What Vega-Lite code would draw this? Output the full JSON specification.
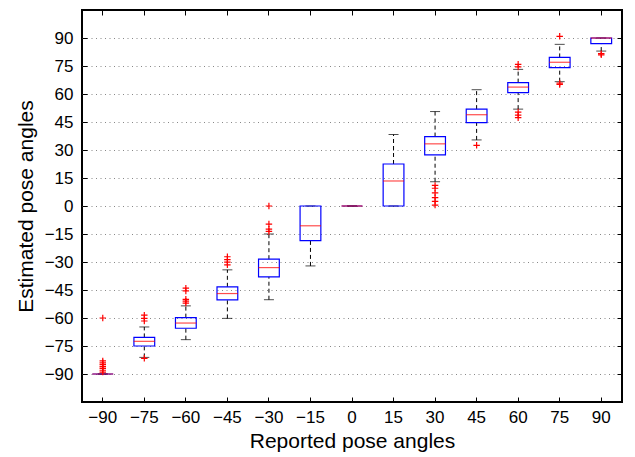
{
  "$schema": "https://vega.github.io/schema/vega-lite/v6.json",
  "width": 540,
  "height": 392,
  "autosize": {"type": "none"},
  "padding": {"left": 82, "top": 10, "right": 13, "bottom": 55},
  "background": "white",
  "datasets": {
    "boxes": [
      {"angle": -90, "lo": -90, "q1": -90, "med": -90, "q3": -90, "hi": -90},
      {"angle": -75, "lo": -81.1, "q1": -75.0, "med": -72.5, "q3": -70.4, "hi": -64.8},
      {"angle": -60, "lo": -71.6, "q1": -65.5, "med": -62.7, "q3": -59.8, "hi": -53.5},
      {"angle": -45, "lo": -60.2, "q1": -50.3, "med": -46.9, "q3": -43.3, "hi": -34.2},
      {"angle": -30, "lo": -50.2, "q1": -38.0, "med": -33.0, "q3": -28.5, "hi": -15.0},
      {"angle": -15, "lo": -32.1, "q1": -18.6, "med": -10.6, "q3": 0, "hi": 0},
      {"angle": 0, "lo": 0, "q1": 0, "med": 0, "q3": 0, "hi": 0},
      {"angle": 15, "lo": 0, "q1": 0, "med": 13.4, "q3": 22.5, "hi": 38.3},
      {"angle": 30, "lo": 13.0, "q1": 27.4, "med": 33.3, "q3": 37.2, "hi": 50.6},
      {"angle": 45, "lo": 35.4, "q1": 44.7, "med": 48.9, "q3": 51.9, "hi": 62.3},
      {"angle": 60, "lo": 51.9, "q1": 60.7, "med": 63.7, "q3": 66.1, "hi": 73.2},
      {"angle": 75, "lo": 66.6, "q1": 74.1, "med": 77.0, "q3": 79.6, "hi": 86.6},
      {"angle": 90, "lo": 83.0, "q1": 87.0, "med": 90, "q3": 90, "hi": 90}
    ],
    "outliers": [
      {"angle": -90, "v": -60}, {"angle": -90, "v": -83}, {"angle": -90, "v": -84}, {"angle": -90, "v": -85},
      {"angle": -90, "v": -86}, {"angle": -90, "v": -87}, {"angle": -90, "v": -88}, {"angle": -90, "v": -89},
      {"angle": -75, "v": -58.5}, {"angle": -75, "v": -60.2}, {"angle": -75, "v": -61.6}, {"angle": -75, "v": -81.6},
      {"angle": -60, "v": -44}, {"angle": -60, "v": -45.5}, {"angle": -60, "v": -50}, {"angle": -60, "v": -51}, {"angle": -60, "v": -52},
      {"angle": -45, "v": -27.2}, {"angle": -45, "v": -28.7}, {"angle": -45, "v": -30.1}, {"angle": -45, "v": -31.5},
      {"angle": -30, "v": 0}, {"angle": -30, "v": -9.7}, {"angle": -30, "v": -12.4}, {"angle": -30, "v": -13.6},
      {"angle": 30, "v": 11}, {"angle": 30, "v": 9.5}, {"angle": 30, "v": 7}, {"angle": 30, "v": 4.5}, {"angle": 30, "v": 2.5}, {"angle": 30, "v": 0.5},
      {"angle": 45, "v": 32.5},
      {"angle": 60, "v": 75.9}, {"angle": 60, "v": 74.5}, {"angle": 60, "v": 50.3}, {"angle": 60, "v": 48.7}, {"angle": 60, "v": 47.3},
      {"angle": 75, "v": 90.9}, {"angle": 75, "v": 65.8}, {"angle": 75, "v": 65.1},
      {"angle": 90, "v": 81.6}, {"angle": 90, "v": 81}
    ]
  },
  "resolve": {"axis": {"x": "independent", "y": "independent"}},
  "layer": [
    {
      "data": {"name": "boxes"},
      "mark": {"type": "rule", "color": "black", "strokeWidth": 1, "strokeDash": [4, 3]},
      "encoding": {
        "x": {"field": "angle", "type": "ordinal",
          "scale": {"type": "band", "domain": [-90, -75, -60, -45, -30, -15, 0, 15, 30, 45, 60, 75, 90], "paddingInner": 0, "paddingOuter": 0},
          "axis": {"orient": "bottom", "title": "Reported pose angles", "labelAngle": 0, "domain": false, "grid": false,
            "tickSize": -5, "labelPadding": 12, "titlePadding": 5,
            "labelExpr": "replace(datum.label, '-', '\u2212')"}},
        "y": {"field": "lo", "type": "quantitative",
          "scale": {"domain": [-105, 105], "nice": false, "zero": false},
          "axis": {"orient": "left", "title": "Estimated pose angles", "values": [-90, -75, -60, -45, -30, -15, 0, 15, 30, 45, 60, 75, 90],
            "domain": false, "grid": true, "gridDash": [1, 3.5], "gridColor": "#888888", "gridWidth": 1,
            "tickSize": -5, "labelPadding": 14, "titlePadding": 8}},
        "y2": {"field": "q1"}
      }
    },
    {
      "data": {"name": "boxes"},
      "mark": {"type": "rule", "color": "black", "strokeWidth": 1, "strokeDash": [4, 3]},
      "encoding": {
        "x": {"field": "angle", "type": "ordinal",
          "axis": {"orient": "top", "labels": false, "title": null, "domain": false, "grid": false, "tickSize": -5}},
        "y": {"field": "q3", "type": "quantitative",
          "axis": {"orient": "right", "labels": false, "title": null, "domain": false, "grid": false, "tickSize": -5,
            "values": [-90, -75, -60, -45, -30, -15, 0, 15, 30, 45, 60, 75, 90]}},
        "y2": {"field": "hi"}
      }
    },
    {
      "data": {"name": "boxes"},
      "mark": {"type": "tick", "color": "black", "size": 10, "thickness": 1},
      "encoding": {
        "x": {"field": "angle", "type": "ordinal", "axis": null},
        "y": {"field": "lo", "type": "quantitative", "axis": null}
      }
    },
    {
      "data": {"name": "boxes"},
      "mark": {"type": "tick", "color": "black", "size": 10, "thickness": 1},
      "encoding": {
        "x": {"field": "angle", "type": "ordinal", "axis": null},
        "y": {"field": "hi", "type": "quantitative", "axis": null}
      }
    },
    {
      "data": {"name": "boxes"},
      "mark": {"type": "bar", "fill": null, "fillOpacity": 0, "stroke": "#0000ff", "strokeWidth": 1.2, "width": {"band": 0.5}},
      "encoding": {
        "x": {"field": "angle", "type": "ordinal", "axis": null},
        "y": {"field": "q1", "type": "quantitative", "axis": null},
        "y2": {"field": "q3"}
      }
    },
    {
      "data": {"name": "boxes"},
      "mark": {"type": "tick", "color": "#ff0000", "size": 21, "thickness": 1.2},
      "encoding": {
        "x": {"field": "angle", "type": "ordinal", "axis": null},
        "y": {"field": "med", "type": "quantitative", "axis": null}
      }
    },
    {
      "data": {"name": "outliers"},
      "mark": {"type": "point", "shape": "M-1,0L1,0M0,-1L0,1", "filled": false, "stroke": "#ff0000", "strokeWidth": 1.2, "size": 42, "opacity": 1},
      "encoding": {
        "x": {"field": "angle", "type": "ordinal", "axis": null},
        "y": {"field": "v", "type": "quantitative", "axis": null}
      }
    }
  ],
  "config": {
    "font": "Liberation Sans",
    "view": {"stroke": "black", "strokeWidth": 2},
    "axis": {"labelFontSize": 17, "titleFontSize": 21, "titleFontWeight": "normal", "labelColor": "black", "titleColor": "black",
      "tickColor": "black", "tickWidth": 1, "labelFont": "Liberation Sans", "titleFont": "Liberation Sans"}
  }
}
